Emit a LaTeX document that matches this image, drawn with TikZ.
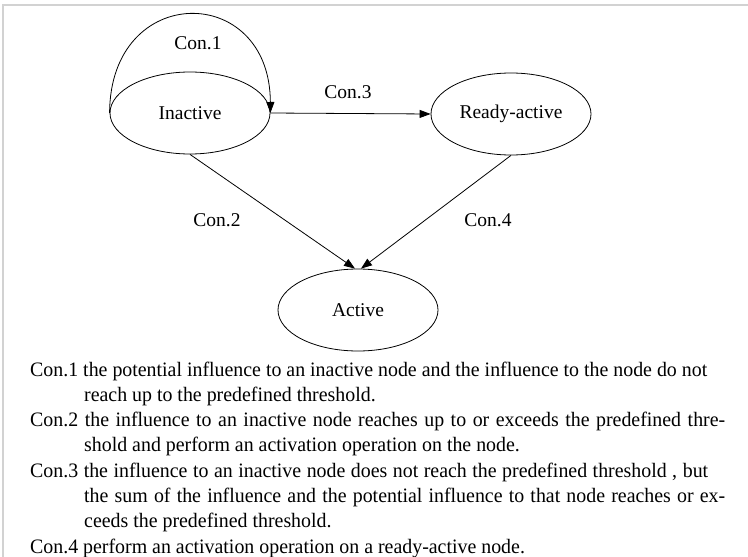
\documentclass[tikz,border=0pt]{standalone}
\usepackage{fontspec}
\setmainfont{Liberation Serif}
\newfontfamily\condserif[FakeStretch=0.97]{Liberation Serif}
\usetikzlibrary{arrows.meta,shapes.geometric}
\begin{document}
\begin{tikzpicture}[x=1pt,y=-1pt,
  state/.style={draw, ellipse, line width=0.8pt, minimum width=160pt, minimum height=82pt, inner sep=0pt, font=\fontsize{19.5}{23}\selectfont},
  conn/.style={line width=0.8pt, -{Triangle[length=11pt,width=8pt]}},
  lbl/.style={font=\fontsize{19.5}{23}\selectfont, inner sep=0pt},
  txtline/.style={anchor=base west, inner sep=0pt, font=\condserif\fontsize{20.5}{25}\selectfont}]
\useasboundingbox (0,0) rectangle (748,557);
\draw[gray!35, line width=1.5pt] (3,557) -- (3,5) -- (748,5);
\node[state] (ina) at (190,113) {Inactive};
\node[state] (rdy) at (511,114) {Ready-active};
\node[state] (act) at (358,310) {Active};
\draw[conn] (ina.west) .. controls (110,-18) and (270,-18) .. (ina.east);
\draw[conn] (ina.east) -- (rdy.west);
\draw[conn] (ina.south) -- ([xshift=-3pt]act.north);
\draw[conn] (rdy.south) -- ([xshift=3pt]act.north);
\node[lbl] (l1) at (198,43) {Con.1};
\node[lbl] (l3) at (348,92) {Con.3};
\node[lbl] (l2) at (217,220) {Con.2};
\node[lbl] (l4) at (488,220) {Con.4};
\node[txtline] (t1) at (30,376) {\makebox[677pt][s]{Con.1 the potential influence to an inactive node and the influence to the node do not}};
\node[txtline] (t2) at (84,401.3) {reach up to the predefined threshold.};
\node[txtline] (t3) at (30,426.6) {\makebox[695pt][s]{Con.2 the influence to an inactive node reaches up to or exceeds the predefined thre-}};
\node[txtline] (t4) at (84,451.9) {shold and perform an activation operation on the node.};
\node[txtline] (t5) at (30,477.2) {\makebox[678pt][s]{Con.3 the influence to an inactive node does not reach the predefined threshold , but}};
\node[txtline] (t6) at (84,502.5) {\makebox[641pt][s]{the sum of the influence and the potential influence to that node reaches or ex-}};
\node[txtline] (t7) at (84,527.8) {ceeds the predefined threshold.};
\node[txtline] (t8) at (30,553) {Con.4 perform an activation operation on a ready-active node.};
\end{tikzpicture}
\end{document}
